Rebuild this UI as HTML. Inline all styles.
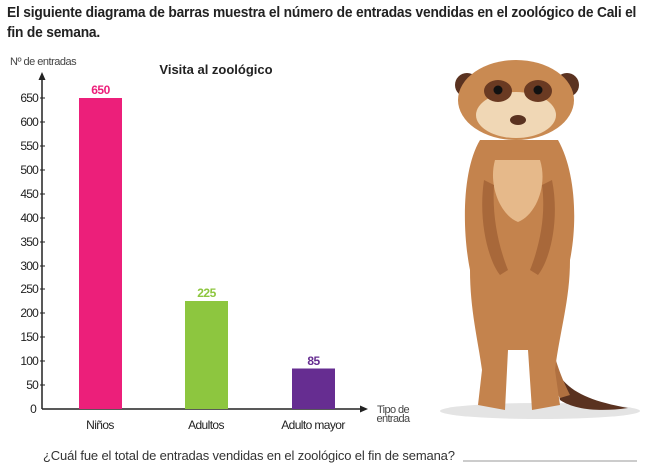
<!DOCTYPE html>
<html><head><meta charset="utf-8"><style>
body{margin:0;background:#fff;width:648px;height:476px;overflow:hidden;position:relative;font-family:"Liberation Sans",sans-serif}
.t{position:absolute;left:7px;top:3px;font:bold 14.5px "Liberation Sans",sans-serif;color:#222;line-height:20px;white-space:nowrap;transform:scaleX(0.95);transform-origin:0 0;letter-spacing:-0.2px}
svg{position:absolute;left:0;top:0}
</style></head><body>
<div class="t">El siguiente diagrama de barras muestra el número de entradas vendidas en el zoológico de Cali el<br>fin de semana.</div>
<svg width="648" height="476" xmlns="http://www.w3.org/2000/svg" font-family="Liberation Sans, sans-serif">
<text x="10" y="65" font-size="11" fill="#444" letter-spacing="-0.5">Nº de entradas</text>
<text x="216" y="74" font-size="13" font-weight="bold" fill="#222" text-anchor="middle">Visita al zoológico</text>
<line x1="42" y1="78" x2="42" y2="409" stroke="#222" stroke-width="1.5"/>
<polygon points="42,72 38.5,80 45.5,80" fill="#222"/>
<line x1="42" y1="409" x2="360" y2="409" stroke="#222" stroke-width="1.5"/>
<polygon points="368,409 360,405.5 360,412.5" fill="#222"/>
<g font-size="12" fill="#222" text-anchor="end" letter-spacing="-0.8">
<text x="36" y="413">0</text><text x="38" y="389">50</text><text x="38" y="365">100</text><text x="38" y="341">150</text><text x="38" y="317">200</text><text x="38" y="293">250</text><text x="38" y="270">300</text><text x="38" y="246">350</text><text x="38" y="222">400</text><text x="38" y="198">450</text><text x="38" y="174">500</text><text x="38" y="150">550</text><text x="38" y="126">600</text><text x="38" y="102">650</text>
</g>
<g stroke="#222" stroke-width="1">
<line x1="40" x2="45" y1="385" y2="385"/><line x1="40" x2="45" y1="361" y2="361"/><line x1="40" x2="45" y1="337" y2="337"/><line x1="40" x2="45" y1="313" y2="313"/><line x1="40" x2="45" y1="289" y2="289"/><line x1="40" x2="45" y1="266" y2="266"/><line x1="40" x2="45" y1="242" y2="242"/><line x1="40" x2="45" y1="218" y2="218"/><line x1="40" x2="45" y1="194" y2="194"/><line x1="40" x2="45" y1="170" y2="170"/><line x1="40" x2="45" y1="146" y2="146"/><line x1="40" x2="45" y1="122" y2="122"/><line x1="40" x2="45" y1="98" y2="98"/>
</g>
<rect x="79" y="98" width="43" height="311" fill="#ec1f7a"/>
<rect x="185" y="301" width="43" height="108" fill="#8dc63f"/>
<rect x="292" y="368.5" width="43" height="40.5" fill="#662d91"/>
<g font-size="12" font-weight="bold" text-anchor="middle" letter-spacing="-0.5">
<text x="100.5" y="94" fill="#ec1f7a">650</text>
<text x="206.5" y="297" fill="#8dc63f">225</text>
<text x="313.5" y="365" fill="#662d91">85</text>
</g>
<g font-size="12" fill="#222" text-anchor="middle" letter-spacing="-0.6">
<text x="100" y="429">Niños</text><text x="206" y="429">Adultos</text><text x="313" y="429">Adulto mayor</text>
</g>
<text x="393" y="413" font-size="11" fill="#444" text-anchor="middle" letter-spacing="-0.6">Tipo de</text>
<text x="393" y="422" font-size="11" fill="#444" text-anchor="middle" letter-spacing="-0.6">entrada</text>
<text x="43" y="460" font-size="13" fill="#333" letter-spacing="-0.15">¿Cuál fue el total de entradas vendidas en el zoológico el fin de semana?</text>
<line x1="463" y1="461" x2="637" y2="461" stroke="#999" stroke-width="1"/>
<!-- meerkat -->
<ellipse cx="540" cy="411" rx="100" ry="8" fill="#e4e4e4"/>
<path d="M553,365 C565,390 585,400 628,408 C600,412 575,410 560,400 Z" fill="#5a3220"/>
<path d="M548,330 C555,360 560,375 570,395 L560,398 C548,380 542,360 540,335 Z" fill="#b07040"/>
<path d="M480,140 C462,170 462,230 470,270 C470,310 478,340 482,370 L478,405 L505,410 L508,350 L528,350 L532,410 L560,405 L555,370 C560,330 570,300 570,260 C578,220 575,170 558,140 Z" fill="#c4834d"/>
<path d="M495,160 C488,185 500,215 518,222 C536,215 548,185 540,160 Z" fill="#e6b98a"/>
<path d="M484,180 C478,220 488,260 500,275 L508,270 C498,245 492,215 494,185 Z M552,180 C560,220 550,260 538,275 L530,270 C540,245 546,215 542,185 Z" fill="#a8683a"/>
<circle cx="467" cy="85" r="12" fill="#5a3220"/><circle cx="567" cy="85" r="12" fill="#5a3220"/>
<ellipse cx="516" cy="100" rx="58" ry="40" fill="#c98a52"/>
<ellipse cx="516" cy="115" rx="40" ry="23" fill="#f0d7b5"/>
<ellipse cx="498" cy="91" rx="14" ry="11" fill="#6a3a22"/><ellipse cx="538" cy="91" rx="14" ry="11" fill="#6a3a22"/>
<circle cx="498" cy="90" r="4.5" fill="#111"/><circle cx="538" cy="90" r="4.5" fill="#111"/>
<ellipse cx="518" cy="120" rx="8" ry="5" fill="#5a3220"/>
</svg>
</body></html>
